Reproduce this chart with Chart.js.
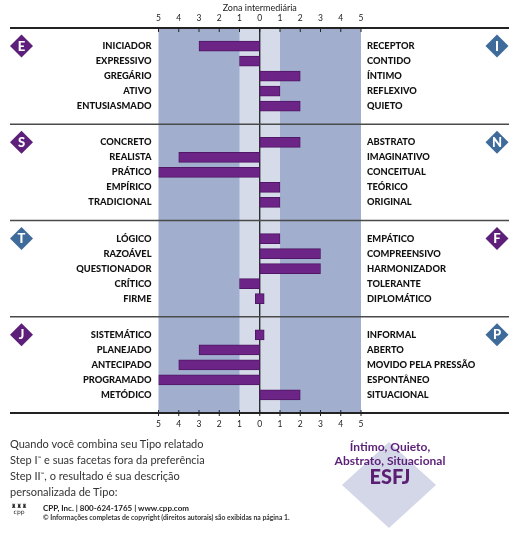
<!DOCTYPE html>
<html lang="pt">
<head>
    <meta charset="UTF-8">
    <title>Facetas Step II</title>
    <style>
        body { margin: 0; background: #fff; font-family: Lato, "Open Sans", sans-serif; }
        #wrap { position: absolute; left: 0; top: 0; width: 528px; height: 440px; }
        .txt { position: absolute; color: #333; white-space: nowrap; }
        #intro { left: 10px; top: 436px; font-size: 11px; line-height: 16px; color: #333; }
        #intro sup { font-size: 5px; line-height: 0; vertical-align: 4px; }
        #cpp { left: 43px; top: 503px; font-size: 8px; font-weight: bold; color: #222; }
        #copy { left: 43px; top: 513px; font-size: 6.8px; font-weight: bold; color: #333; }
        #logo { left: 11px; top: 503px; font-size: 6px; line-height: 6px; color: #222; text-align: center; font-family: "DejaVu Sans"; }
        #diamond { position: absolute; left: 342px; top: 442px; width: 94px; height: 86px;
                   background: #d3d7e8; clip-path: polygon(50% 0, 100% 50%, 50% 100%, 0 50%); }
        #facets { left: 330px; top: 440px; width: 120px; text-align: center; font-size: 12px; line-height: 14px;
                  font-weight: bold; color: #5b1f77; }
        #type { left: 330px; top: 464px; width: 120px; text-align: center; font-size: 20px; font-weight: 900; color: #5a1f73; }
    </style>
</head>
<body>
    <div id="wrap"><canvas id="facetChart"></canvas></div>

    <div id="diamond"></div>
    <div class="txt" id="intro">Quando você combina seu Tipo relatado<br>Step I<sup>™</sup> e suas facetas fora da preferência<br>Step II<sup>™</sup>, o resultado é sua descrição<br>personalizada de Tipo:</div>
    <div class="txt" id="logo">♜♜♜<br>cpp</div>
    <div class="txt" id="cpp">CPP, Inc. | 800-624-1765 | www.cpp.com</div>
    <div class="txt" id="copy">© Informações completas de copyright (direitos autorais) são exibidas na página 1.</div>
    <div class="txt" id="facets">Íntimo, Quieto,<br>Abstrato, Situacional</div>
    <div class="txt" id="type">ESFJ</div>

    <script src="https://cdn.jsdelivr.net/npm/chart.js"></script>
    <script>
        // polos de cada escala (esquerda / direita)
        const leftLetters = ["E", "S", "T", "J"];
        const rightLetters = ["I", "N", "F", "P"];
        const preferred = ["E", "S", "F", "J"];

        const leftLabels = [
            "INICIADOR", "EXPRESSIVO", "GREGÁRIO", "ATIVO", "ENTUSIASMADO",
            "CONCRETO", "REALISTA", "PRÁTICO", "EMPÍRICO", "TRADICIONAL",
            "LÓGICO", "RAZOÁVEL", "QUESTIONADOR", "CRÍTICO", "FIRME",
            "SISTEMÁTICO", "PLANEJADO", "ANTECIPADO", "PROGRAMADO", "METÓDICO"
        ];
        const rightLabels = [
            "RECEPTOR", "CONTIDO", "ÍNTIMO", "REFLEXIVO", "QUIETO",
            "ABSTRATO", "IMAGINATIVO", "CONCEITUAL", "TEÓRICO", "ORIGINAL",
            "EMPÁTICO", "COMPREENSIVO", "HARMONIZADOR", "TOLERANTE", "DIPLOMÁTICO",
            "INFORMAL", "ABERTO", "MOVIDO PELA PRESSÃO", "ESPONTÂNEO", "SITUACIONAL"
        ];
        // negativo = polo da esquerda, positivo = polo da direita
        const scores = [
            -3, -1, 2, 1, 2,
            2, -4, -5, 1, 1,
            1, 3, 3, -1, 0,
            0, -3, -4, -5, 2
        ];
        const tickValues = [-5, -4, -3, -2, -1, 0, 1, 2, 3, 4, 5];

        // cada grupo ocupa 6.4 unidades, as 5 linhas ficam centradas nele
        const groupSize = 6.4;
        const rowPos = scores.map((s, i) => {
            const g = Math.floor(i / 5), r = i % 5;
            return g * groupSize + groupSize / 2 + (r - 2);
        });
        const bars = scores.map((s, i) => ({
            y: rowPos[i],
            x: s === 0 ? [-0.22, 0.22] : [Math.min(0, s), Math.max(0, s)]
        }));

        const labelFont = { family: "Lato", size: 9.3, weight: "900" };
        const numFont = { family: "Lato", size: 8.5 };

        const backdrop = {
            id: "backdrop",
            beforeDatasetsDraw(chart) {
                const ctx = chart.ctx, x = chart.scales.x, y = chart.scales.y;
                const top = y.getPixelForValue(0), bottom = y.getPixelForValue(groupSize * 4);
                ctx.save();
                ctx.fillStyle = "#a1aecd";
                ctx.fillRect(x.getPixelForValue(-5), top, x.getPixelForValue(5) - x.getPixelForValue(-5), bottom - top);
                ctx.fillStyle = "#d5dbe9";
                ctx.fillRect(x.getPixelForValue(-1), top, x.getPixelForValue(1) - x.getPixelForValue(-1), bottom - top);
                // linha do zero
                ctx.strokeStyle = "#111";
                ctx.lineWidth = 1.2;
                ctx.beginPath();
                ctx.moveTo(x.getPixelForValue(0), top);
                ctx.lineTo(x.getPixelForValue(0), bottom);
                ctx.stroke();
                // separadores dos grupos
                for (let g = 0; g <= 4; g++) {
                    const py = y.getPixelForValue(g * groupSize);
                    ctx.strokeStyle = (g === 0 || g === 4) ? "#222" : "#4a4a4a";
                    ctx.lineWidth = (g === 0 || g === 4) ? 2 : 1.5;
                    ctx.beginPath();
                    ctx.moveTo(10, py);
                    ctx.lineTo(509, py);
                    ctx.stroke();
                }
                // marcas dos eixos
                ctx.strokeStyle = "#222";
                ctx.lineWidth = 1;
                tickValues.forEach(v => {
                    const px = x.getPixelForValue(v);
                    ctx.beginPath();
                    ctx.moveTo(px, top - 1);
                    ctx.lineTo(px, top + 4);
                    ctx.moveTo(px, bottom - 3);
                    ctx.lineTo(px, bottom + 3);
                    ctx.stroke();
                });
                ctx.restore();
            },
            afterDraw(chart) {
                const ctx = chart.ctx, y = chart.scales.y;
                ctx.save();
                ctx.textAlign = "center";
                ctx.textBaseline = "middle";
                ctx.font = "900 13px Lato";
                for (let g = 0; g < 4; g++) {
                    const py = y.getPixelForValue(rowPos[g * 5]);
                    [[21.5, leftLetters[g]], [497, rightLetters[g]]].forEach(([cx, letter]) => {
                        ctx.fillStyle = preferred.includes(letter) ? "#5e1f7b" : "#3f6b9b";
                        ctx.beginPath();
                        ctx.moveTo(cx, py - 11.5);
                        ctx.lineTo(cx + 11.5, py);
                        ctx.lineTo(cx, py + 11.5);
                        ctx.lineTo(cx - 11.5, py);
                        ctx.closePath();
                        ctx.fill();
                        ctx.fillStyle = "#fff";
                        ctx.fillText(letter, cx, py + 0.5);
                    });
                }
                ctx.restore();
            }
        };

        const yTicks = scale => { scale.ticks = rowPos.map(v => ({ value: v })); };
        const noPad = s => { s.paddingTop = 0; s.paddingBottom = 0; s.paddingLeft = 0; s.paddingRight = 0; };
        const fitY = w => s => { s.width = w; noPad(s); };
        const fitX = h => s => { s.height = h; noPad(s); };

        new Chart(document.getElementById("facetChart"), {
            type: "bar",
            data: {
                datasets: [{
                    data: bars,
                    backgroundColor: "#6c2586",
                    borderColor: "#4f1765",
                    borderWidth: 1,
                    borderSkipped: false,
                    barThickness: 10
                }]
            },
            options: {
                indexAxis: "y",
                responsive: true,
                maintainAspectRatio: false,
                animation: false,
                layout: { padding: 0, autoPadding: false },
                plugins: { legend: { display: false }, tooltip: { enabled: false } },
                scales: {
                    x: {
                        type: "linear", position: "bottom", min: -5, max: 5, offset: false,
                        afterBuildTicks: s => { s.ticks = tickValues.map(v => ({ value: v })); },
                        afterFit: fitX(27),
                        grid: { display: false, drawTicks: false },
                        border: { display: false },
                        ticks: { callback: v => Math.abs(v), font: numFont, color: "#222", padding: 6, maxRotation: 0 }
                    },
                    x2: {
                        type: "linear", position: "top", min: -5, max: 5, offset: false,
                        afterBuildTicks: s => { s.ticks = tickValues.map(v => ({ value: v })); },
                        afterFit: fitX(28),
                        grid: { display: false, drawTicks: false },
                        border: { display: false },
                        title: { display: true, text: "Zona intermediária", font: { family: "Lato", size: 9 }, color: "#222", padding: { top: 2.5, bottom: 0 } },
                        ticks: { callback: v => Math.abs(v), font: numFont, color: "#222", padding: 5, maxRotation: 0 }
                    },
                    y: {
                        type: "linear", position: "left", min: 0, max: groupSize * 4, reverse: true, offset: false,
                        afterBuildTicks: yTicks,
                        afterFit: fitY(158.5),
                        grid: { display: false, drawTicks: false },
                        border: { display: false },
                        ticks: { callback: (v, i) => leftLabels[i], font: labelFont, color: "#111", padding: 7, autoSkip: false }
                    },
                    y2: {
                        type: "linear", position: "right", min: 0, max: groupSize * 4, reverse: true, offset: false,
                        afterBuildTicks: yTicks,
                        afterFit: fitY(167),
                        grid: { display: false, drawTicks: false },
                        border: { display: false },
                        ticks: { callback: (v, i) => rightLabels[i], font: labelFont, color: "#111", padding: 6, autoSkip: false }
                    }
                }
            },
            plugins: [backdrop]
        });
    </script>
</body>
</html>
